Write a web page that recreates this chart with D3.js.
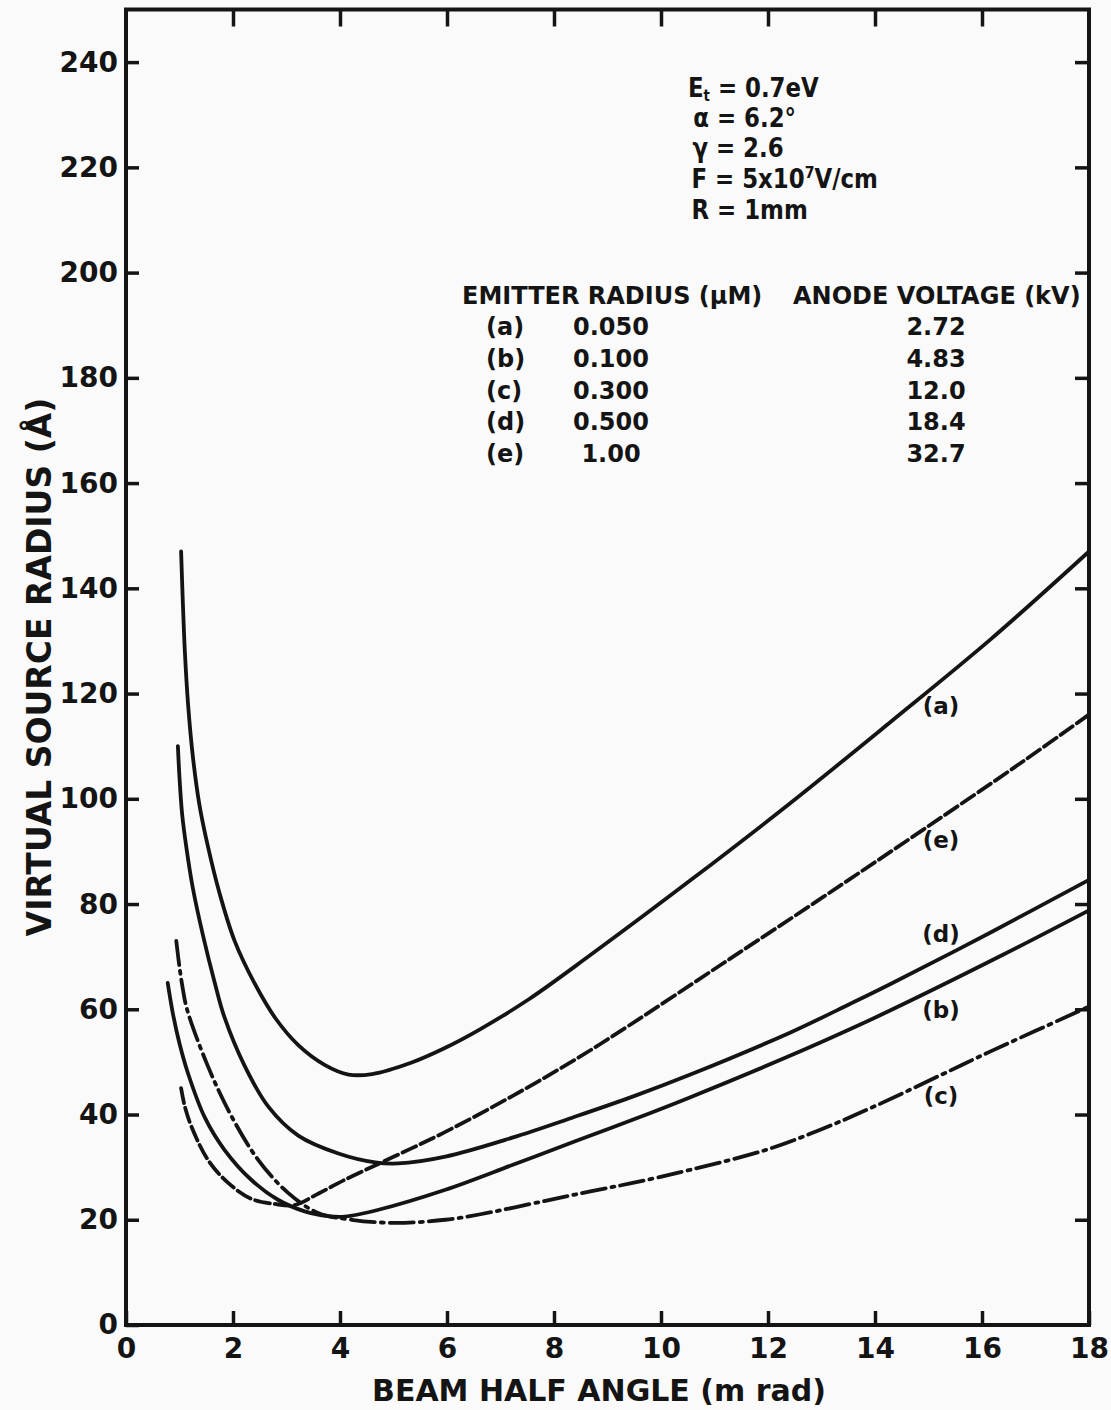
<!DOCTYPE html>
<head>
<meta charset="utf-8">
<style>
body, html {
  margin: 0;
  background: #fafafa;
}
svg text {
  font-family: "DejaVu Sans";
  font-weight: bold;
  fill: #141414;
}
.frame {
  fill: none;
  stroke: #141414;
  stroke-width: 4;
}
.tick line {
  stroke: #141414;
  stroke-width: 3.5;
}
.curve {
  fill: none;
  stroke: #141414;
  stroke-width: 3.8;
  stroke-linecap: round;
}
</style>
<script src="https://d3js.org/d3.v7.min.js"></script>
</head>
<body>
<div id="chart"></div>
<script>

// values
var xTicks = [0, 2, 4, 6, 8, 10, 12, 14, 16, 18];
var yTicks = [0, 20, 40, 60, 80, 100, 120, 140, 160, 180, 200, 220, 240];

var xA = [1.03, 1.06, 1.10, 1.16, 1.25, 1.37, 1.53, 1.75, 2.03, 2.4, 2.8, 3.22, 3.72, 4.16, 4.6, 5.34, 5.97, 6.6, 7.53, 8.68, 10.55, 12.42, 14.29, 16.16, 18];
var yA = [147, 138, 128, 118, 108, 99, 91, 82, 73, 65, 58.2, 53.2, 49.4, 47.6, 47.7, 49.9, 52.7, 56.1, 61.9, 70.3, 84.5, 99.2, 114.6, 130.3, 147];

var xB = [0.78, 0.88, 1.0, 1.16, 1.47, 1.84, 2.34, 2.84, 3.34, 3.78, 4.09, 4.72, 5.97, 7.22, 8.47, 9.47, 10.55, 12.42, 13.53, 14.29, 16.4, 18];
var yB = [65, 59, 53.5, 47.8, 39.5, 33.3, 27.6, 23.8, 21.6, 20.7, 20.6, 21.9, 25.7, 30.4, 35.2, 39.0, 43.3, 51.2, 56.2, 59.8, 70.4, 78.8];

var xC = [0.94, 1.0, 1.06, 1.14, 1.53, 1.97, 2.47, 3.03, 3.59, 4.22, 5.03, 5.97, 6.6, 7.84, 8.68, 9.47, 10.55, 12, 13, 14, 15.23, 16.16, 18];
var yC = [73, 68, 64, 60, 49.2, 39.7, 31.4, 25.1, 21.3, 20, 19.4, 20, 21, 23.6, 25.4, 27.0, 29.5, 33.4, 37.2, 41.6, 47.5, 52, 60.5];

var xD = [0.97, 1.0, 1.05, 1.125, 1.25, 1.44, 1.66, 1.84, 2.22, 2.66, 3.22, 3.97, 4.66, 5.09, 5.97, 7.22, 8.34, 9.47, 10.55, 12.42, 13.53, 14.29, 16.16, 18];
var yD = [110, 104, 97, 91, 83, 74, 65, 58.5, 49.2, 41.5, 36, 32.6, 30.9, 30.7, 32.0, 35.6, 39.4, 43.4, 47.6, 55.6, 61, 64.8, 74.6, 84.6];

var xE = [1.03, 1.1, 1.22, 1.53, 1.91, 2.34, 2.78, 3.15, 3.6, 4.09, 5.03, 5.97, 7.22, 8.47, 9.4, 11.17, 13.04, 14.91, 16.78, 18];
var yE = [45, 41.5, 37.8, 31.4, 27, 24, 23, 22.8, 25, 27.6, 32.1, 36.7, 43.5, 50.9, 56.9, 68.8, 81.4, 94.2, 107.2, 116];

var curveLabels = ["(a)", "(b)", "(c)", "(d)", "(e)"];
var emitterRadius = ["0.050", "0.100", "0.300", "0.500", "1.00"];
var anodeVoltage = ["2.72", "4.83", "12.0", "18.4", "32.7"];

//==========================================
var width = 1111,
    height = 1410;

var x = d3.scaleLinear().domain([0, 18]).range([126, 1089]);
var y = d3.scaleLinear().domain([0, 250]).range([1325, 9.5]);

var svg = d3.select('#chart').append('svg')
    .attr('width', width)
    .attr('height', height);

//--------------------------------------
function drawAxes() {
  svg.append('g')
      .attr('transform', 'translate(' + x(0) + ',0)')
      .call(d3.axisLeft(y).tickValues(yTicks).tickSize(-13).tickSizeOuter(0).tickPadding(8))
      .call(function(g) { g.select('.domain').remove(); })
      .selectAll('text').style('font-size', '28px');

  svg.append('g')
      .attr('transform', 'translate(0,' + y(0) + ')')
      .call(d3.axisBottom(x).tickValues(xTicks).tickSize(-14).tickSizeOuter(0).tickPadding(13))
      .call(function(g) { g.select('.domain').remove(); })
      .selectAll('text').style('font-size', '28px');

  svg.append('g')
      .attr('transform', 'translate(0,' + y(250) + ')')
      .call(d3.axisTop(x).tickValues(xTicks.slice(1, -1)).tickSize(-17).tickFormat(''))
      .call(function(g) { g.select('.domain').remove(); });

  svg.append('g')
      .attr('transform', 'translate(' + x(18) + ',0)')
      .call(d3.axisRight(y).tickValues(yTicks.slice(1)).tickSize(-14).tickFormat(''))
      .call(function(g) { g.select('.domain').remove(); });

  svg.append('rect')
      .attr('class', 'frame')
      .attr('x', x(0))
      .attr('y', y(250))
      .attr('width', x(18) - x(0))
      .attr('height', y(0) - y(250));

  svg.append('text')
      .attr('x', 599)
      .attr('y', 1401)
      .attr('text-anchor', 'middle')
      .style('font-size', '30px')
      .text('BEAM HALF ANGLE (m rad)');

  svg.append('text')
      .attr('transform', 'translate(51,667) rotate(-90)')
      .attr('text-anchor', 'middle')
      .style('font-size', '33px')
      .text('VIRTUAL SOURCE RADIUS (Å)');
}

//--------------------------------------
function drawCurve(xs, ys, dash) {
  var line = d3.line()
      .x(function(d) { return x(d[0]); })
      .y(function(d) { return y(d[1]); })
      .curve(d3.curveCatmullRom.alpha(0.5));

  svg.append('path')
      .datum(d3.zip(xs, ys))
      .attr('class', 'curve')
      .attr('stroke-dasharray', dash)
      .attr('d', line);
}

//--------------------------------------
function drawNotes() {
  // lettering in the figure is narrower than DejaVu, squeeze it a bit
  var params = svg.append('text')
      .attr('transform', 'translate(688,0) scale(0.88,1)')
      .style('font-size', '26px');

  var t = params.append('tspan').attr('x', 0).attr('y', 97);
  t.append('tspan').text('E');
  t.append('tspan').attr('dy', 4).style('font-size', '15px').text('t');
  t.append('tspan').attr('dy', -4).text(' = 0.7eV');

  params.append('tspan').attr('x', 6).attr('y', 127).text('α = 6.2°');
  params.append('tspan').attr('x', 5).attr('y', 157).text('γ = 2.6');

  t = params.append('tspan').attr('x', 4).attr('y', 188);
  t.append('tspan').text('F = 5x10');
  t.append('tspan').attr('dy', -10).style('font-size', '16px').text('7');
  t.append('tspan').attr('dy', 10).text('V/cm');

  params.append('tspan').attr('x', 4).attr('y', 219).text('R = 1mm');

  // emitter table
  var table = svg.append('g').style('font-size', '24px');
  table.append('text').attr('x', 462).attr('y', 304).text('EMITTER RADIUS (μM)');
  table.append('text').attr('x', 793).attr('y', 304).text('ANODE VOLTAGE (kV)');

  curveLabels.forEach(function(lab, i) {
    var yy = 335 + i * 31.8;
    table.append('text').attr('x', 486).attr('y', yy).text(lab);
    table.append('text').attr('x', 611).attr('y', yy).attr('text-anchor', 'middle').text(emitterRadius[i]);
    table.append('text').attr('x', 936).attr('y', yy).attr('text-anchor', 'middle').text(anodeVoltage[i]);
  });

  // labels next to the curves, in the order a, b, c, d, e
  var labelY = [714, 1018, 1104, 942, 848];
  curveLabels.forEach(function(lab, i) {
    svg.append('text')
        .attr('x', 941)
        .attr('y', labelY[i])
        .attr('text-anchor', 'middle')
        .style('font-size', '23px')
        .text(lab);
  });
}

//==========================================
drawAxes();
drawCurve(xA, yA, null);
drawCurve(xB, yB, null);
drawCurve(xC, yC, '24,6,3,6');
drawCurve(xD, yD, null);
drawCurve(xE, yE, '15,5');
drawNotes();

</script>
</body>
